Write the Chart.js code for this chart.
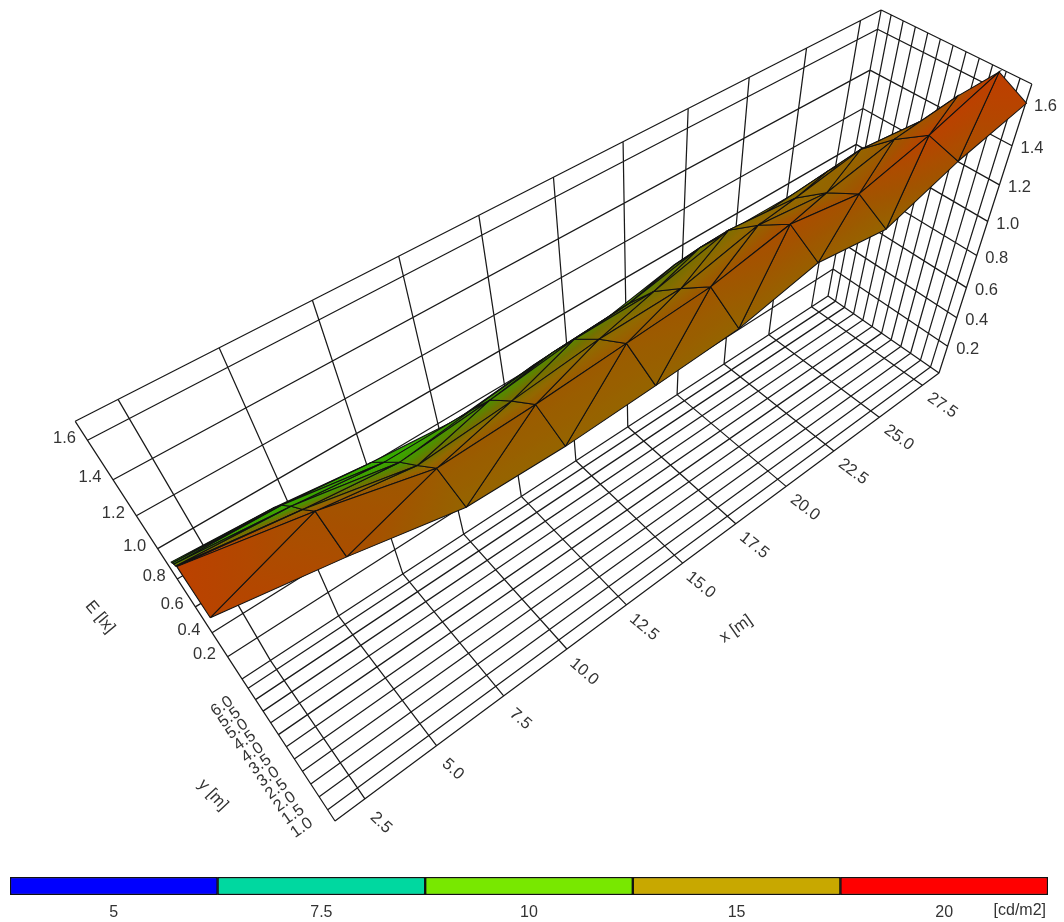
<!DOCTYPE html>
<html>
<head>
<meta charset="utf-8">
<title>E [lx] surface</title>
<script src="https://cdn.jsdelivr.net/npm/chart.js@4"></script>
<style>
  body { margin: 0; background: white; }
  canvas { position: absolute; left: 0; }
  #surface { top: 0; }
  #scale { top: 870px; }
</style>
</head>
<body>
<canvas id="surface" width="1064" height="870"></canvas>
<canvas id="scale" width="1064" height="52"></canvas>
<script>
// calculation grid, y rows run from the front edge to the back wall
const xGrid = [1.6, 4.6, 7.65, 10.65, 13.65, 16.65, 19.65, 22.6, 25.55, 28.55];
const yGrid = [0.58, 1.75, 2.92, 4.08, 5.25, 6.42];

// E [lx] per y row
const eRow0 = [1.55, 1.45, 1.33, 1.316, 1.33, 1.35, 1.434, 1.38, 1.51, 1.60];
const eRow1 = [1.62, 1.515, 1.38, 1.394, 1.42, 1.446, 1.52, 1.46, 1.55, 1.67];
const eRow2 = [1.435, 1.357, 1.242, 1.277, 1.322, 1.33, 1.42, 1.376, 1.45, 1.485];
const eRow3 = [1.26, 1.21, 1.11, 1.15, 1.204, 1.207, 1.30, 1.26, 1.32, 1.28];
const eRow4 = [1.08, 1.05, 0.96, 0.96, 1.01, 1.03, 1.11, 1.09, 1.12, 1.095];
const eRow5 = [0.90, 0.87, 0.805, 0.76, 0.81, 0.83, 0.91, 0.92, 0.915, 0.89];
const eRows = [eRow0, eRow1, eRow2, eRow3, eRow4, eRow5];

// luminance [cd/m2] per y row, gives the colour
const lumRow0 = [18.5, 17, 14.5, 14.5, 14.5, 14.5, 15, 14.5, 16.5, 18.5];
const lumRow1 = [19, 16.5, 15.5, 15.5, 15.5, 16, 17, 16.5, 18.5, 19.5];
const lumRow2 = [14, 13, 12.5, 13, 13.5, 14, 14.5, 14.5, 15.5, 16.5];
const lumRow3 = [10, 10, 10.5, 11, 11.5, 12.5, 13, 14, 14.5, 15];
const lumRow4 = [9.5, 9.5, 9.5, 10, 11, 11.5, 12, 13, 13.5, 14];
const lumRow5 = [9, 9, 9, 9.5, 10.5, 11, 11.5, 12.5, 13, 13.5];
const lumRows = [lumRow0, lumRow1, lumRow2, lumRow3, lumRow4, lumRow5];

const rampValues = [9, 11, 12.5, 14, 16, 18, 20];
const rampColors = [[50, 175, 0], [75, 145, 0], [115, 112, 0], [145, 105, 0], [160, 85, 0], [180, 70, 0], [195, 60, 0]];

const xTicks = [2.5, 5, 7.5, 10, 12.5, 15, 17.5, 20, 22.5, 25, 27.5];
const yTicks = [1, 1.5, 2, 2.5, 3, 3.5, 4, 4.5, 5, 5.5, 6];
const eTicks = [0.2, 0.4, 0.6, 0.8, 1, 1.2, 1.4, 1.6];

const legendLabels = ['5', '7.5', '10', '15', '20'];
const legendColors = ['#0000ff', '#00d8a0', '#78e800', '#c8a800', '#ff0000'];

const xMin = 1.5, xMax = 28.5, yMin = 0.58, yMax = 6.42, eMax = 1.69;
const inkColor = '#1a1a1a';
const textColor = '#333';
const labelFont = '16.5px "Liberation Sans"';

// camera fitted to the box corners of the picture
function project(x, y, e) {
  const u = (x - xMin) / (xMax - xMin), v = (y - yMin) / (yMax - yMin), w = e / eMax;
  const d = 1 + 0.356 * u + 0.098 * v - 0.323 * w;
  return {
    x: (335 + 938.3 * u - 69.3 * v - 207.4 * w) / d,
    y: (821 - 315.2 * u - 75.5 * v - 419 * w) / d
  };
}

function rampAt(lum) {
  let i = 0;
  while (i < rampValues.length - 2 && lum > rampValues[i + 1]) i++;
  const t = Math.min(1, Math.max(0, (lum - rampValues[i]) / (rampValues[i + 1] - rampValues[i])));
  const c = rampColors[i].map((c0, k) => Math.round(c0 + t * (rampColors[i + 1][k] - c0)));
  return `rgb(${c[0]},${c[1]},${c[2]})`;
}

const surfaceCtx = document.getElementById('surface').getContext('2d');

// linear gradient that follows the luminance plane of one triangle
function triangleFill(p, lum) {
  const det = (p[1].x - p[0].x) * (p[2].y - p[0].y) - (p[2].x - p[0].x) * (p[1].y - p[0].y);
  const lo = Math.min(...lum), hi = Math.max(...lum);
  if (Math.abs(det) < 1 || hi - lo < 0.01) return rampAt((lum[0] + lum[1] + lum[2]) / 3);
  const gx = ((lum[1] - lum[0]) * (p[2].y - p[0].y) - (lum[2] - lum[0]) * (p[1].y - p[0].y)) / det;
  const gy = ((lum[2] - lum[0]) * (p[1].x - p[0].x) - (lum[1] - lum[0]) * (p[2].x - p[0].x)) / det;
  const start = p[lum.indexOf(lo)];
  const scale = (hi - lo) / (gx * gx + gy * gy);
  const grad = surfaceCtx.createLinearGradient(start.x, start.y, start.x + gx * scale, start.y + gy * scale);
  for (let s = 0; s <= 8; s++) grad.addColorStop(s / 8, rampAt(lo + (hi - lo) * s / 8));
  return grad;
}

function wallLines() {
  const pts = [];
  const seg = (a, b) => { pts.push(project(...a), project(...b), { x: NaN, y: NaN }); };
  xTicks.concat([xMin, xMax]).forEach(x => {
    seg([x, yMin, 0], [x, yMax, 0]);
    seg([x, yMax, 0], [x, yMax, eMax]);
  });
  yTicks.concat([yMin, yMax]).forEach(y => {
    seg([xMin, y, 0], [xMax, y, 0]);
    seg([xMax, y, 0], [xMax, y, eMax]);
  });
  eTicks.concat([eMax]).forEach(e => {
    seg([xMin, yMax, e], [xMax, yMax, e]);
    seg([xMax, yMax, e], [xMax, yMin, e]);
  });
  return pts;
}

const datasets = [{
  data: wallLines(),
  showLine: true,
  pointRadius: 0,
  borderColor: inkColor,
  borderWidth: 1.25,
  spanGaps: false
}];

function addTriangle(a, b, c) {
  const p = [a, b, c].map(n => project(xGrid[n[0]], yGrid[n[1]], eRows[n[1]][n[0]]));
  const lum = [a, b, c].map(n => lumRows[n[1]][n[0]]);
  datasets.push({
    data: [p[0], p[1], p[2], p[0]],
    showLine: true,
    pointRadius: 0,
    fill: 'shape',
    backgroundColor: triangleFill(p, lum),
    borderColor: '#111',
    borderWidth: 1.05
  });
}

// back rows first so the front strip paints over them
for (let j = yGrid.length - 2; j >= 0; j--) {
  for (let i = 0; i < xGrid.length - 1; i++) {
    addTriangle([i, j], [i + 1, j], [i + 1, j + 1]);
    addTriangle([i, j], [i, j + 1], [i + 1, j + 1]);
  }
}
datasets.forEach((d, idx) => { d.order = -idx; });

const fmt = v => v.toFixed(1);

const tickText = {
  id: 'tickText',
  afterDraw(chart) {
    const { ctx, scales } = chart;
    const put = (text, px, py, deg) => {
      ctx.save();
      ctx.translate(scales.x.getPixelForValue(px), scales.y.getPixelForValue(py));
      ctx.rotate(deg * Math.PI / 180);
      ctx.fillText(text, 0, 0);
      ctx.restore();
    };
    ctx.save();
    ctx.font = labelFont;
    ctx.fillStyle = textColor;
    ctx.textAlign = 'center';
    ctx.textBaseline = 'middle';
    eTicks.forEach(e => {
      const r = project(xMax, yMin, e);
      put(fmt(e), r.x + 20, r.y + 3, 0);
      const l = project(xMin, yMax, e);
      put(fmt(e), l.x - 23, l.y - 2, 0);
    });
    xTicks.forEach((x, i) => {
      const p = project(x, yMin, 0);
      put(fmt(x), p.x + 16 + 0.4 * i, p.y + 24 - 0.4 * i, 43 - 0.8 * i);
    });
    yTicks.forEach(y => {
      const p = project(xMin, y, 0);
      put(fmt(y), p.x - 26, p.y + 18, -35);
    });
    put('x [m]', 736, 629, -35);
    put('y [m]', 213, 795, 47);
    put('E [lx]', 100, 617, 50);
    ctx.restore();
  }
};

new Chart(document.getElementById('surface'), {
  type: 'scatter',
  data: { datasets: datasets },
  options: {
    responsive: false,
    animation: false,
    devicePixelRatio: 1,
    layout: { padding: 0 },
    elements: { line: { tension: 0 } },
    plugins: { legend: { display: false }, tooltip: { enabled: false } },
    scales: {
      x: { type: 'linear', min: 0, max: 1064, display: false },
      y: { type: 'linear', min: 0, max: 870, reverse: true, display: false }
    }
  },
  plugins: [tickText]
});

const unitText = {
  id: 'unitText',
  afterDraw(chart) {
    const { ctx } = chart;
    ctx.save();
    ctx.font = '16px "Liberation Sans"';
    ctx.fillStyle = textColor;
    ctx.textAlign = 'right';
    ctx.textBaseline = 'middle';
    ctx.fillText('[cd/m2]', 1046, 41);
    ctx.restore();
  }
};

new Chart(document.getElementById('scale'), {
  type: 'bar',
  data: {
    labels: [''],
    datasets: legendLabels.map((label, i) => ({
      label: label,
      data: [1],
      backgroundColor: legendColors[i],
      borderColor: '#111',
      borderWidth: 1.5,
      borderSkipped: false,
      barPercentage: 1,
      categoryPercentage: 1
    }))
  },
  options: {
    indexAxis: 'y',
    responsive: false,
    animation: false,
    devicePixelRatio: 1,
    layout: { padding: { left: 10, right: 16, top: 7, bottom: 0 } },
    plugins: { legend: { display: false }, tooltip: { enabled: false } },
    scales: {
      y: { stacked: true, display: false },
      x: {
        stacked: true,
        min: 0,
        max: 5,
        grid: { display: false, drawTicks: false },
        border: { display: false },
        afterBuildTicks: axis => { axis.ticks = legendLabels.map((l, i) => ({ value: i + 0.5 })); },
        afterFit: axis => { axis.height = 27; }, // layout would cap it at half of the canvas and clip the labels
        ticks: {
          autoSkip: false,
          maxRotation: 0,
          padding: 8,
          color: textColor,
          font: { family: 'Liberation Sans', size: 16 },
          callback: (v, i) => legendLabels[i]
        }
      }
    }
  },
  plugins: [unitText]
});
</script>
</body>
</html>
